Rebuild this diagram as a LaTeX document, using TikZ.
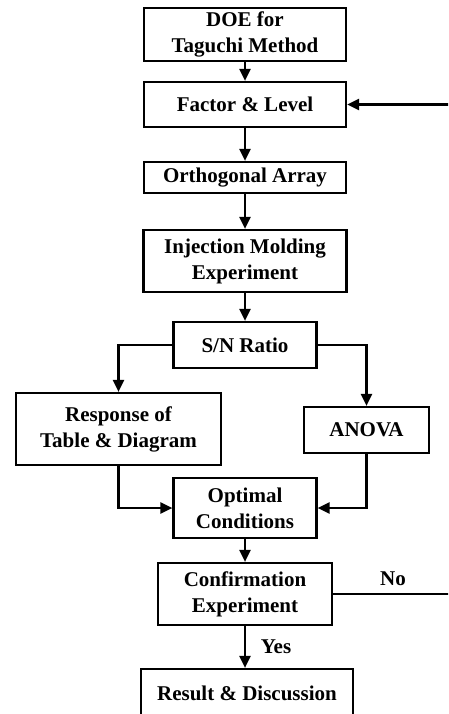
\documentclass[tikz,border=0pt]{standalone}
\usepackage{fontspec}
\setmainfont{Liberation Serif}
\usetikzlibrary{arrows.meta}

\tikzset{
  stepbox/.style={draw, line width=2.2pt, align=center, inner sep=0pt,
    font=\fontsize{21}{26}\selectfont\bfseries},
  arr/.style={line width=2.2pt, -{Triangle[length=12pt,width=11pt]}},
  lbl/.style={font=\fontsize{21}{26}\selectfont\bfseries, inner sep=0pt}
}

\begin{document}
\begin{tikzpicture}[x={(1pt,0)}, y={(0,-1pt)}]
  \useasboundingbox (0,0) rectangle (448,714);
  \clip (0,0) rectangle (448,714);
  \fill[white] (0,0) rectangle (448,714);

  % main column
  \node[stepbox, minimum width=202pt, minimum height=53pt] (doe) at (245,34.5) {DOE for\\Taguchi Method};
  \node[stepbox, minimum width=202pt, minimum height=45pt] (factor) at (245,104.5) {Factor \& Level};
  \node[stepbox, minimum width=202pt, minimum height=31pt] (ortho) at (245,177.5) {Orthogonal Array};
  \node[stepbox, minimum width=203pt, minimum height=62pt] (inj) at (245,261) {Injection Molding\\Experiment};
  \node[stepbox, minimum width=143pt, minimum height=46pt] (sn) at (245,345) {S/N Ratio};

  % analysis branches
  \node[stepbox, minimum width=205pt, minimum height=72pt] (resp) at (118.5,429) {Response of\\Table \& Diagram};
  \node[stepbox, minimum width=125pt, minimum height=46pt] (anova) at (366.5,430) {ANOVA};

  % lower column
  \node[stepbox, minimum width=143pt, minimum height=60pt] (opt) at (245,508) {Optimal\\Conditions};
  \node[stepbox, minimum width=174pt, minimum height=62pt] (conf) at (245,594) {Confirmation\\Experiment};
  \node[stepbox, minimum width=212pt, minimum height=48pt] (result) at (247,693) {Result \& Discussion};

  % decision labels
  \node[lbl] (no) at (393,579) {No};
  \node[lbl] (yes) at (276,647) {Yes};

  % vertical flow
  \draw[arr] (doe.south) -- (factor.north);
  \draw[arr] (factor.south) -- (ortho.north);
  \draw[arr] (ortho.south) -- (inj.north);
  \draw[arr] (inj.south) -- (sn.north);
  \draw[arr] (opt.south) -- (conf.north);
  \draw[arr] (conf.south) -- (conf.south |- result.north);

  % split and merge
  \draw[arr] (sn.west) -| (resp.north);
  \draw[arr] (sn.east) -| (anova.north);
  \draw[arr] (resp.south) |- (opt.west);
  \draw[arr] (anova.south) |- (opt.east);

  % feedback loop back to factor selection
  \coordinate (loopx) at (458,0);
  \draw[arr] (conf.east) -- (conf.east -| loopx) |- (factor.east);
\end{tikzpicture}
\end{document}
